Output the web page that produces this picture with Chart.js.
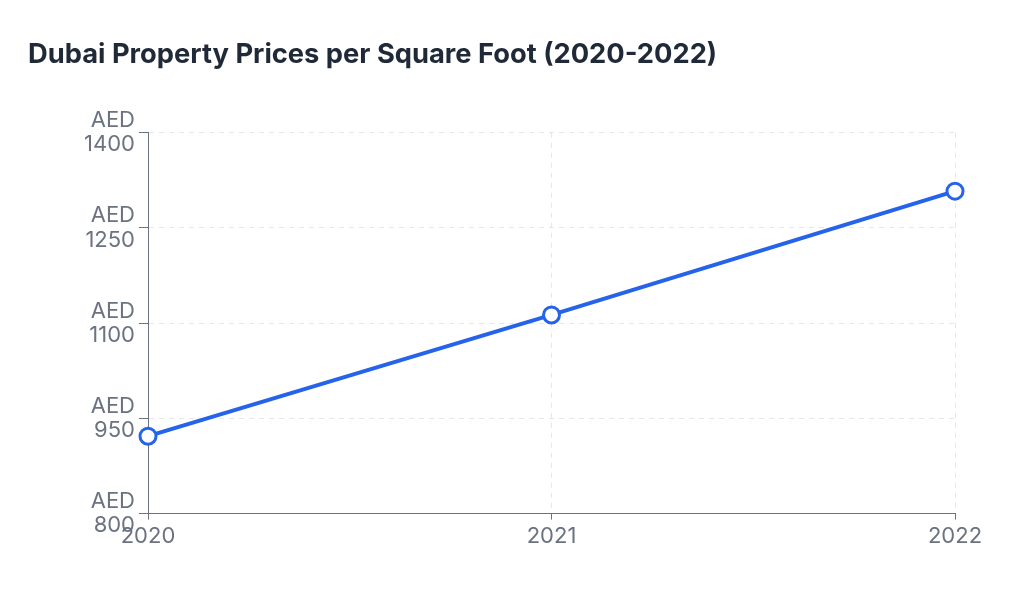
<!DOCTYPE html>
<html>
<head>
<meta charset="utf-8">
<script src="https://cdn.jsdelivr.net/npm/chart.js@4"></script>
<style>
  html, body { margin: 0; padding: 0; background: #ffffff; }
  #wrap { width: 1024px; height: 616px; position: relative; }
</style>
</head>
<body>
<div id="wrap"><canvas id="c"></canvas></div>
<script>
const categories = ["2020", "2021", "2022"];
const priceValues = [922, 1113, 1308];
const yTickValues = [800, 950, 1100, 1250, 1400];
const titleText = "Dubai Property Prices per Square Foot (2020-2022)";

const FONT = 'Inter, "Noto Sans", sans-serif';
const ctx = document.getElementById('c');
new Chart(ctx, {
  type: 'line',
  data: {
    labels: categories,
    datasets: [{
      label: 'Price per sq ft (AED)',
      data: priceValues,
      borderColor: '#2563eb',
      backgroundColor: '#ffffff',
      borderWidth: 4,
      pointRadius: 8,
      pointHoverRadius: 8,
      pointBorderWidth: 3,
      pointBorderColor: '#2563eb',
      pointBackgroundColor: '#ffffff',
      tension: 0,
      fill: false
    }]
  },
  options: {
    responsive: true,
    maintainAspectRatio: false,
    animation: false,
    layout: { padding: { left: 28, right: 69, top: 28, bottom: 62 } },
    plugins: {
      legend: { display: false },
      tooltip: { enabled: false },
      title: {
        display: true,
        text: titleText,
        align: 'start',
        fullSize: true,
        color: '#1f2937',
        font: { family: FONT, size: 27.3, weight: 'bold' },
        padding: { top: 10, bottom: 62 }
      }
    },
    scales: {
      x: {
        offset: false,
        grid: { color: '#e5e7eb', tickLength: 6, tickColor: '#6b7280', tickBorderDash: [] },
        border: { color: '#6b7280', width: 1, dash: [5, 5] },
        ticks: {
          color: '#6b7280',
          font: { family: FONT, size: 22 },
          padding: 4
        }
      },
      y: {
        min: yTickValues[0],
        max: yTickValues[yTickValues.length - 1],
        afterBuildTicks: (axis) => { axis.ticks = yTickValues.map(v => ({ value: v })); },
        afterFit: (axis) => { axis.width = 120; },
        grid: { color: '#e5e7eb', tickLength: 9, tickColor: '#6b7280', tickBorderDash: [] },
        border: { color: '#6b7280', width: 1, dash: [5, 5] },
        ticks: {
          color: '#6b7280',
          font: { family: FONT, size: 22, lineHeight: 1.1 },
          padding: 4,
          callback: (v) => ['AED', String(v)]
        }
      }
    }
  }
});
</script>
</body>
</html>
